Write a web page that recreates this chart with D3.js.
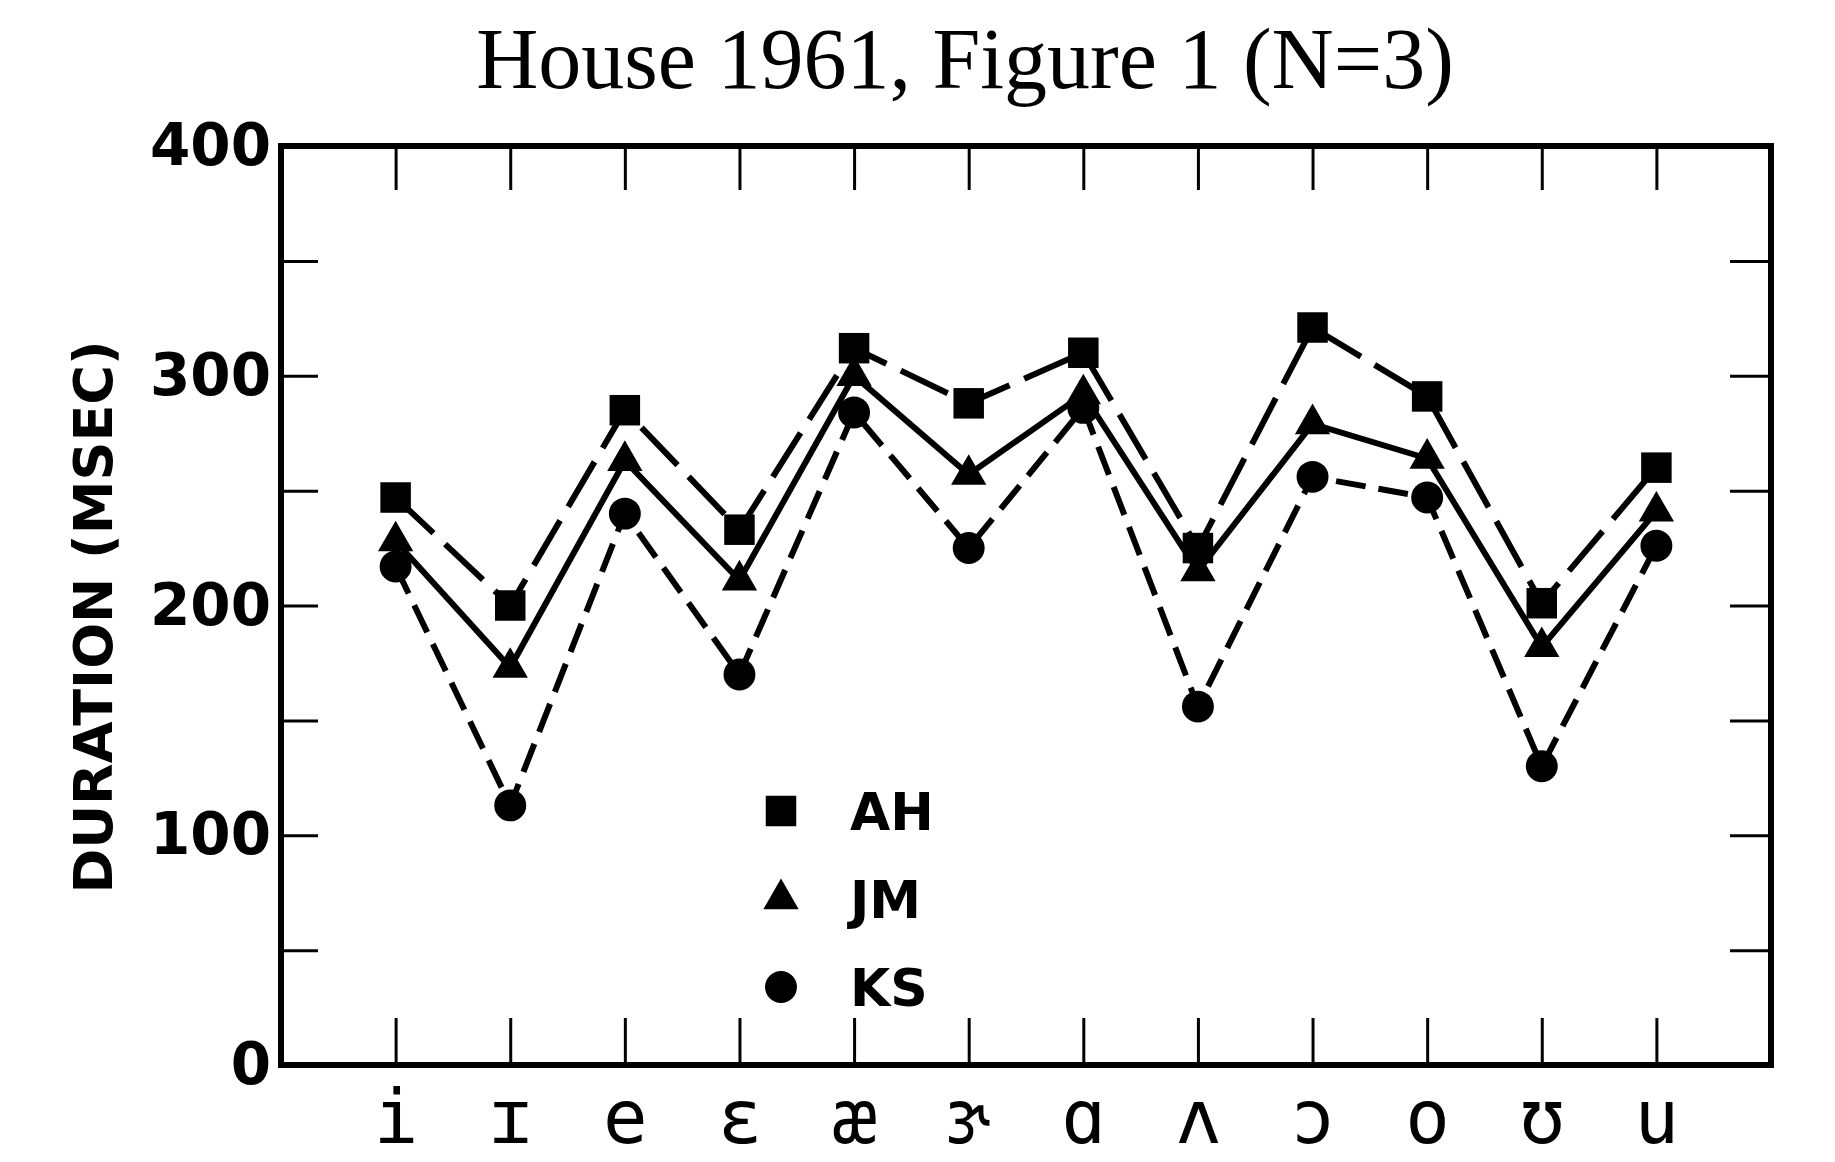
<!DOCTYPE html>
<html>
<head>
<meta charset="utf-8">
<script src="https://cdn.jsdelivr.net/npm/d3@7"></script>
<style>
  body { margin: 0; background: #fff; }
</style>
</head>
<body>
<svg></svg>
<script>
const width = 1835;
const height = 1162;

// vowels on the x axis
const vowels = ["i", "ɪ", "e", "ɛ", "æ", "ɝ", "ɑ", "ʌ", "ɔ", "o", "ʊ", "u"];
// duration in msec, per speaker
const ah = [247, 200, 285, 233, 312, 288, 310, 225, 321, 291, 201, 260];
const jm = [228, 173, 263, 211, 300, 257, 292, 215, 279, 264, 182, 241];
const ks = [217, 113, 240, 170, 284, 225, 286, 156, 256, 247, 130, 226];
const speakers = ["AH", "JM", "KS"];
const yTicks = [0, 50, 100, 150, 200, 250, 300, 350, 400];

const plotLeft = 281, plotRight = 1771, plotTop = 146, plotBottom = 1065;

let svg = d3.select("svg").attr("width", width).attr("height", height);

let x = d3.scalePoint().domain(vowels).range([plotLeft, plotRight]).padding(1);
let y = d3.scaleLinear().domain([0, 400]).range([plotBottom, plotTop]);

// title
svg.append("text")
    .attr("x", 965)
    .attr("y", 88)
    .attr("text-anchor", "middle")
    .style("font-family", "'Liberation Serif', serif")
    .style("font-size", "86px")
    .text("House 1961, Figure 1 (N=3)");

// y axis label
svg.append("text")
    .attr("transform", "translate(112, 617) rotate(-90)")
    .attr("text-anchor", "middle")
    .style("font-family", "'DejaVu Sans', sans-serif")
    .style("font-weight", "bold")
    .style("font-size", "54px")
    .text("DURATION (MSEC)");

// axes, ticks point inward
let yLeft = svg.append("g")
    .attr("transform", `translate(${plotLeft},0)`)
    .call(d3.axisLeft(y).tickValues(yTicks).tickSizeInner(-37).tickSizeOuter(0).tickPadding(10)
        .tickFormat((d) => (d % 100 === 0 ? d : "")));
yLeft.selectAll("text")
    .style("font-family", "'DejaVu Sans', sans-serif")
    .style("font-weight", "bold")
    .style("font-size", "58px");

svg.append("g")
    .attr("transform", `translate(${plotRight},0)`)
    .call(d3.axisRight(y).tickValues(yTicks.slice(1, -1)).tickSizeInner(-41).tickSizeOuter(0)
        .tickFormat(""));

svg.append("g")
    .attr("transform", `translate(0,${plotTop})`)
    .call(d3.axisTop(x).tickSizeInner(-44).tickSizeOuter(0).tickFormat(""));

let xBottom = svg.append("g")
    .attr("transform", `translate(0,${plotBottom})`)
    .call(d3.axisBottom(x).tickSizeInner(-47).tickSizeOuter(0));
xBottom.selectAll("text")
    .attr("y", 78)
    .attr("dy", 0)
    .style("font-family", "'DejaVu Sans Mono', monospace")
    .style("font-size", "74px");

svg.selectAll(".domain").remove();
svg.selectAll(".tick line").attr("stroke", "black").attr("stroke-width", 3);
svg.selectAll(".tick text").attr("fill", "black");

// frame
svg.append("rect")
    .attr("x", plotLeft)
    .attr("y", plotTop)
    .attr("width", plotRight - plotLeft)
    .attr("height", plotBottom - plotTop)
    .attr("fill", "none")
    .attr("stroke", "black")
    .attr("stroke-width", 6);

// lines
const series = [
    { name: "AH", values: ah, dash: "52,16", shape: d3.symbolSquare, size: 930 },
    { name: "JM", values: jm, dash: null, shape: d3.symbolTriangle, size: 540 },
    { name: "KS", values: ks, dash: "30,13", shape: d3.symbolCircle, size: 800 },
];

let line = d3.line()
    .x((d) => x(d.v))
    .y((d) => y(d.t));

series.forEach((s) => {
    const pts = vowels.map((v, i) => ({ v: v, t: s.values[i] }));
    svg.append("path")
        .attr("d", line(pts))
        .attr("fill", "none")
        .attr("stroke", "black")
        .attr("stroke-width", 6)
        .attr("stroke-dasharray", s.dash);
    svg.append("g")
        .selectAll("path")
        .data(pts)
        .join("path")
        .attr("d", d3.symbol().type(s.shape).size(s.size))
        .attr("transform", (d) => `translate(${x(d.v)},${y(d.t)})`)
        .attr("fill", "black");
});

// legend
let legend = svg.append("g");
series.forEach((s, i) => {
    const cy = 811 + i * 88;
    legend.append("path")
        .attr("d", d3.symbol().type(s.shape).size(s.size))
        .attr("transform", `translate(781,${cy})`)
        .attr("fill", "black");
    legend.append("text")
        .attr("x", 850)
        .attr("y", cy + 19)
        .style("font-family", "'DejaVu Sans', sans-serif")
        .style("font-weight", "bold")
        .style("font-size", "52px")
        .text(speakers[i]);
});
</script>
</body>
</html>
